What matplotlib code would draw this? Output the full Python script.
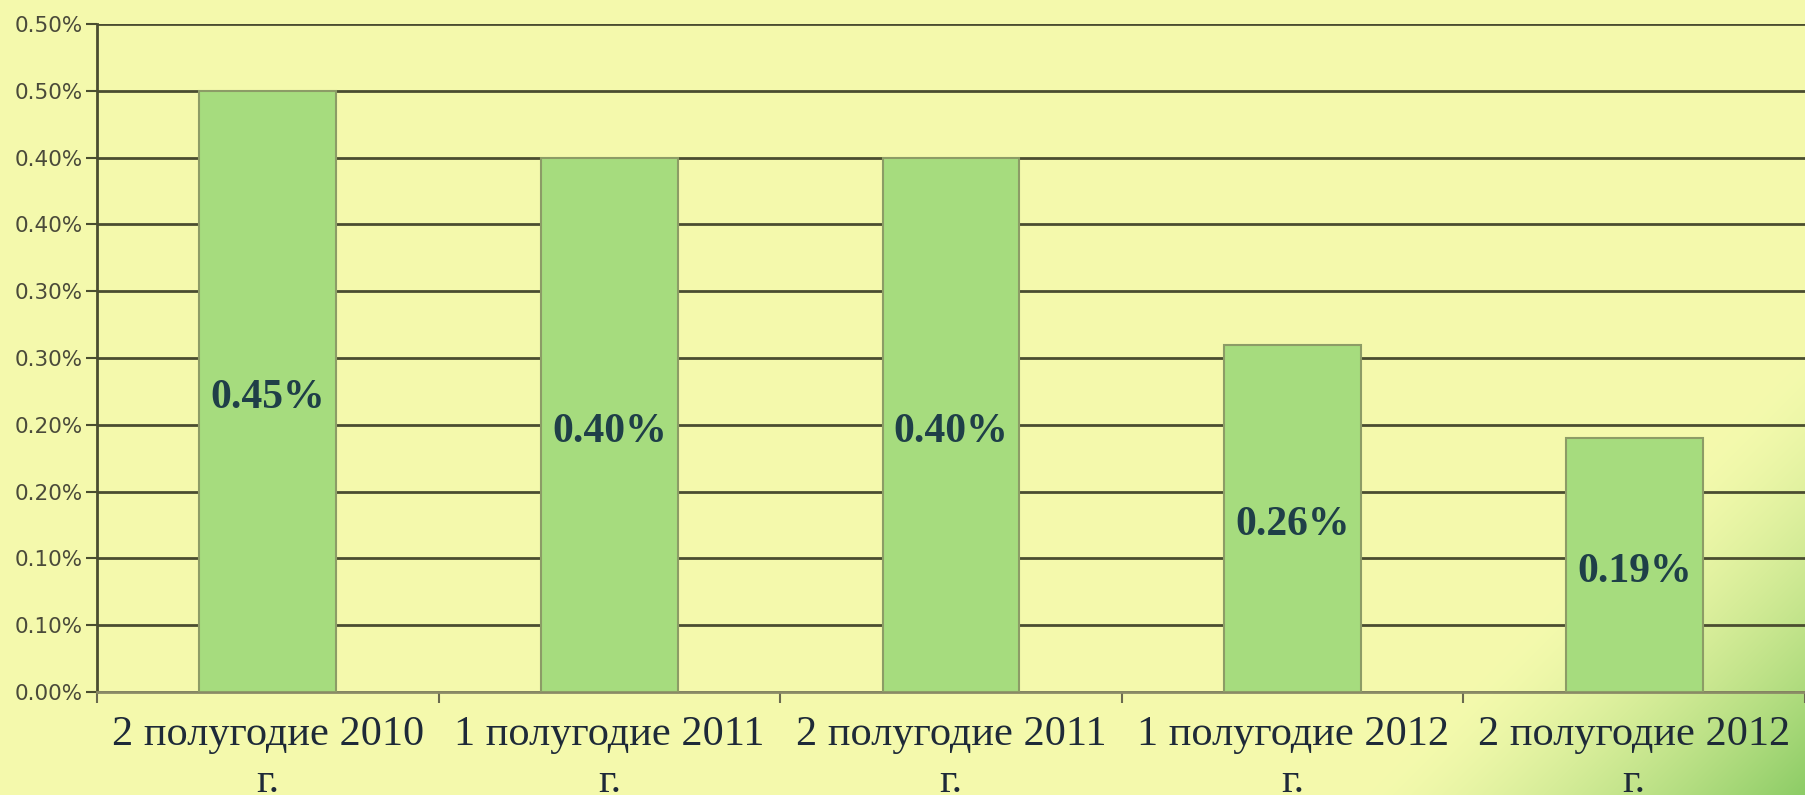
import numpy as np
import matplotlib
matplotlib.use("Agg")
import matplotlib.pyplot as plt
from matplotlib.ticker import FixedLocator

categories = ["2 полугодие 2010\nг.", "1 полугодие 2011\nг.", "2 полугодие 2011\nг.",
              "1 полугодие 2012\nг.", "2 полугодие 2012\nг."]
values = [0.45, 0.40, 0.40, 0.26, 0.19]
value_labels = ["0.45%", "0.40%", "0.40%", "0.26%", "0.19%"]
ytick_values = [0.00, 0.05, 0.10, 0.15, 0.20, 0.25, 0.30, 0.35, 0.40, 0.45, 0.50]
ytick_labels = ["0.00%", "0.10%", "0.10%", "0.20%", "0.20%", "0.30%", "0.30%",
                "0.40%", "0.40%", "0.50%", "0.50%"]

W, H = 1805, 795
fig = plt.figure(figsize=(W / 100, H / 100), dpi=100)

# background with green gradient in bottom-right corner
bg = fig.add_axes([0, 0, 1, 1], zorder=-10)
yy, xx = np.mgrid[0:H, 0:W]
s = (W - xx) + (H - yy)
t = np.clip(1 - s / 440.0, 0, 1) ** 1.4
yellow = np.array([0.957, 0.980, 0.678])
green = np.array([0.55, 0.80, 0.40])
img = yellow[None, None, :] * (1 - t[..., None]) + green[None, None, :] * t[..., None]
bg.imshow(img, extent=[0, 1, 0, 1], aspect="auto", origin="upper")
bg.axis("off")

ax = fig.add_axes([97 / W, 103 / H, 1 - 97 / W, (692 - 24) / H])
ax.patch.set_alpha(0)

x = np.arange(len(categories))
grid_color = "#4a4d30"
bars = ax.bar(x, values, width=0.4, color="#a6dc7e", edgecolor="#8c9c66",
              linewidth=1.5, zorder=3)

for xi, v, lab in zip(x, values, value_labels):
    ax.annotate(lab, xy=(xi, v / 2), xytext=(0, -5), textcoords="offset points",
                ha="center", va="center", fontsize=30, fontweight="bold",
                family="Liberation Serif", color="#1f3f48", zorder=4)

ax.set_xlim(-0.5, len(categories) - 0.5)
ax.set_ylim(0, 0.50)
ax.yaxis.set_major_locator(FixedLocator(ytick_values))
ax.set_yticklabels(ytick_labels, fontsize=15.5, color="#4a4a3a")
ax.yaxis.grid(True, color=grid_color, linewidth=2, zorder=1)
ax.set_axisbelow(True)

ax.set_xticks(x)
ax.set_xticklabels(categories, fontsize=30.5, family="Liberation Serif",
                   color="#1e2a38", linespacing=1.3)
ax.tick_params(axis="x", which="major", length=0, pad=17)
ax.xaxis.set_minor_locator(FixedLocator(np.arange(-0.5, len(categories), 1.0)))
ax.tick_params(axis="x", which="minor", length=8, width=1.5, color="#6a6a50")
ax.tick_params(axis="y", length=8, width=1.5, color=grid_color, pad=2)

for side in ["top", "right"]:
    ax.spines[side].set_visible(False)
ax.spines["left"].set_color(grid_color)
ax.spines["left"].set_linewidth(2)
ax.spines["bottom"].set_color("#8a8a66")
ax.spines["bottom"].set_linewidth(2)

fig.savefig("out.png", dpi=100)
